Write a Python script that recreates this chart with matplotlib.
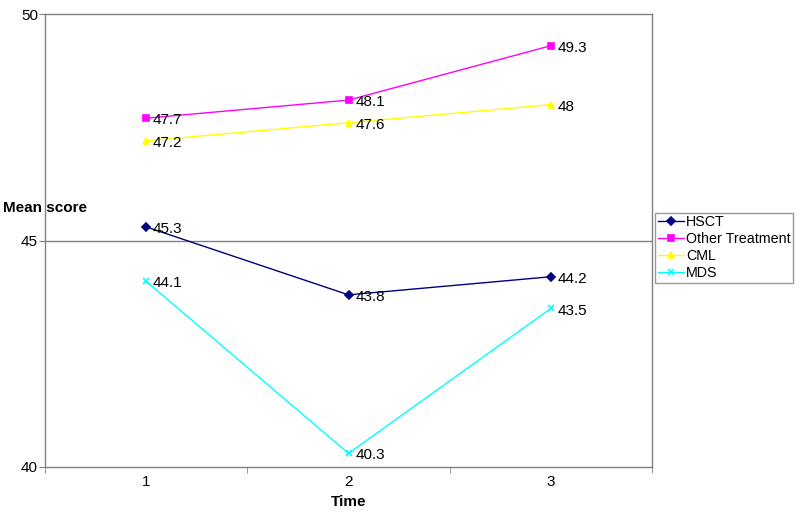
import matplotlib
matplotlib.use("Agg")
import matplotlib.pyplot as plt

# ---------- Data ----------
times = [1, 2, 3]
hsct = [45.3, 43.8, 44.2]
other = [47.7, 48.1, 49.3]
cml = [47.2, 47.6, 48.0]
mds = [44.1, 40.3, 43.5]

series = [
    ("HSCT", hsct, "#000080", "D", 4),
    ("Other Treatment", other, "#FF00FF", "s", 5),
    ("CML", cml, "#FFFF00", "^", 5),
    ("MDS", mds, "#00FFFF", "x", 5),
]

plt.rcParams["font.family"] = ["Liberation Sans", "DejaVu Sans"]
FS = 11

fig = plt.figure(figsize=(8, 5.19), dpi=100)
ax = fig.add_axes([0.05625, 0.1002, 0.7588, 0.8728])

for name, vals, color, mk, ms in series:
    ax.plot(times, vals, color=color, marker=mk, ms=ms, lw=1.0,
            mew=1.2, label=name)
    for x, v in zip(times, vals):
        ax.annotate(f"{v:g}", (x, v), xytext=(5, -1.5), textcoords="offset points",
                    ha="left", va="center", fontsize=FS)

ax.set_xlim(0.5, 3.5)
ax.set_ylim(40, 50)
ax.set_yticks([40, 45, 50])
ax.set_xticks(times)
ax.set_xticks([0.5, 1.5, 2.5, 3.5], minor=True)
ax.tick_params(axis="x", which="major", length=0, pad=6, labelsize=FS)
ax.tick_params(axis="x", which="minor", length=4, color="#808080", direction="out")
ax.tick_params(axis="y", length=4, color="#808080", direction="out",
               labelsize=FS, pad=1)
ax.axhline(45, color="#808080", lw=1.0, zorder=0)

for sp in ax.spines.values():
    sp.set_color("#808080")
    sp.set_linewidth(1.0)

ax.set_xlabel("Time", fontweight="bold", fontsize=FS, labelpad=4)
ax.set_ylabel("Mean score", fontweight="bold", fontsize=FS, rotation=0)
ax.yaxis.set_label_coords(0.0, 0.572)
ax.yaxis.label.set_ha("center")
ax.yaxis.label.set_va("center")

leg = ax.legend(loc="center left", bbox_to_anchor=(1.005, 0.484), fontsize=10.3,
                frameon=True, fancybox=False, edgecolor="#808080",
                borderpad=0.2, labelspacing=0.2, handlelength=1.8,
                handletextpad=0.15, borderaxespad=0)
leg.get_frame().set_linewidth(1.0)

fig.savefig("out.png", dpi=100)
